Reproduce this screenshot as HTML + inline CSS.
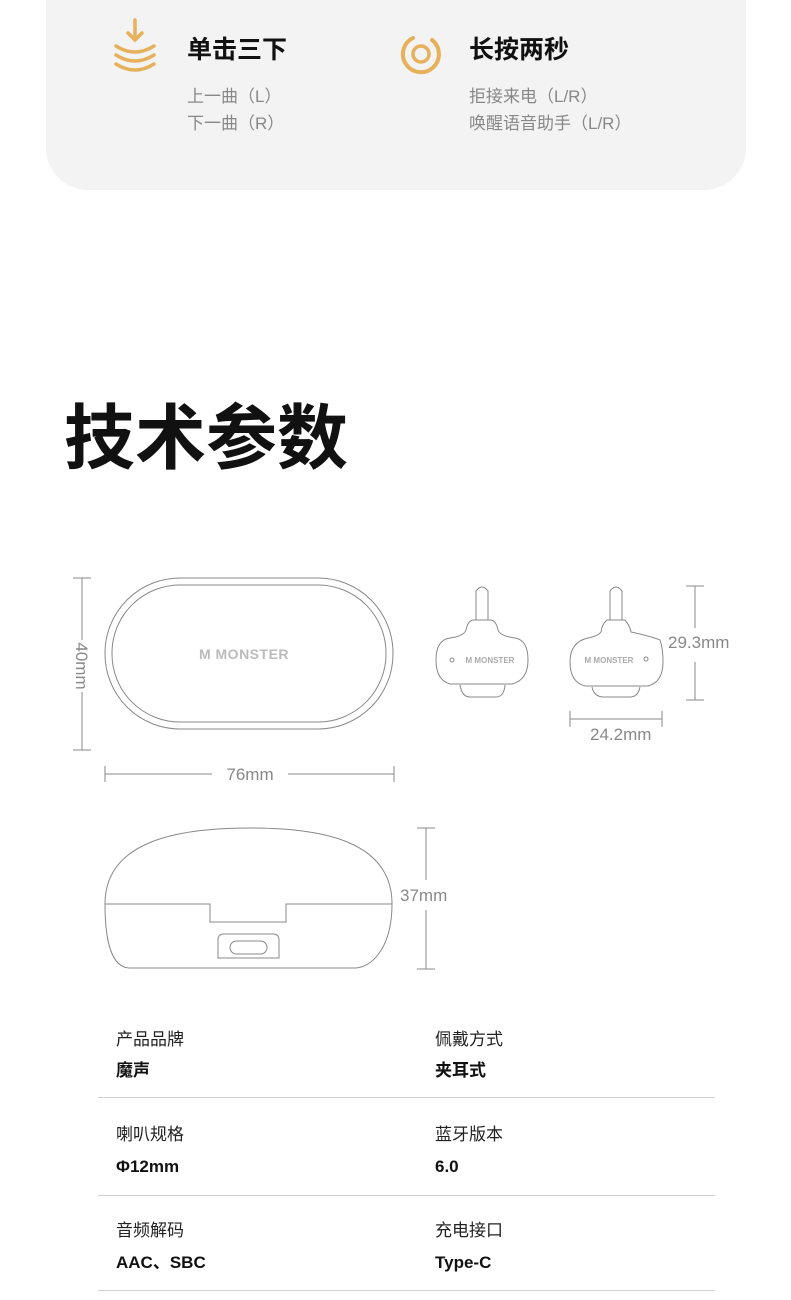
<!DOCTYPE html>
<html><head><meta charset="utf-8"><style>
body{margin:0;width:791px;height:1300px;background:#fff;position:relative;overflow:hidden;font-family:"Liberation Sans","Noto Sans CJK SC",sans-serif}
.a{position:absolute;white-space:nowrap}
.card{position:absolute;left:46px;top:-40px;width:700px;height:230px;background:#f3f3f3;border-radius:0 0 42px 42px}
.h{font-size:25px;font-weight:bold;color:#111;line-height:30px}
.s{font-size:17px;color:#888;line-height:27px}
.lab{font-size:17px;color:#222;line-height:20px}
.val{font-size:17px;font-weight:bold;color:#111;line-height:20px}
.hr{position:absolute;left:98px;width:617px;height:1px;background:#d0d0d0}
</style></head><body>
<div class="card"></div>
<svg class="a" style="left:0;top:0" width="791" height="1300">
 <g fill="none" stroke="#e6b15a" stroke-width="3.5" stroke-linecap="round">
  <path d="M135 20 V40 M128 33 L135 40 L142 33"/>
  <path d="M116 46 Q135 58 154 46"/>
  <path d="M116 55 Q135 67 154 55"/>
  <path d="M116 64 Q135 76 154 64"/>
  <path d="M413 38 A18 18 0 1 0 432 40" stroke-width="4"/>
  <circle cx="421" cy="54" r="8" stroke-width="3.5"/>
 </g>
 <g fill="none" stroke="#888" stroke-width="1">
  <rect x="105" y="578" width="288" height="151" rx="75"/>
  <rect x="112" y="585" width="274" height="137" rx="68"/>
  <path d="M73 578 H91 M82 578 V640 M82 692 V750 M73 750 H91"/>
  <path d="M105 766 V782 M105 774 H212 M288 774 H394 M394 766 V782"/>
  <path d="M105 904 C105 840 180 828 250 828 C320 828 392 840 392 904 C392 950 370 968 355 968 H130 C115 968 105 950 105 904 Z"/>
  <path d="M105 904 H210 V922 H286 V904 H392"/>
  <path d="M218 958 V940 Q218 934 224 934 H273 Q279 934 279 940 V958 Z"/>
  <rect x="230" y="941" width="37" height="13" rx="6.5"/>
  <path d="M417 828 H435 M426 828 V880 M426 910 V969 M417 969 H435"/>
  <path d="M476 620 V591 Q482 583 488 591 V620"/>
  <path d="M474 620 H490 Q496 620 498 630 Q500 636 515 638 Q528 640 528 660 Q528 680 512 684 H450 Q436 680 436 660 Q436 640 450 638 Q464 636 466 630 Q468 620 474 620 Z"/>
  <path d="M460 685 Q462 697 470 697 H496 Q504 697 505 685"/>
  <circle cx="452" cy="660" r="2"/>
  <path d="M610 620 V591 Q616 583 622 591 V620"/>
  <path d="M607 620 H625 Q630 626 631 632 Q650 636 660 640 Q663 648 663 662 Q663 682 648 686 H585 Q570 682 570 662 Q570 642 588 638 Q598 636 601 632 Q602 624 607 620 Z"/>
  <path d="M592 687 Q594 697 604 697 H630 Q638 697 640 687"/>
  <circle cx="646" cy="659" r="2"/>
  <path d="M686 586 H704 M695 586 V628 M695 662 V700 M686 700 H704"/>
  <path d="M570 711 V727 M570 719 H662 M662 711 V727"/>
 </g>
 <text x="244" y="659" font-family="Liberation Sans" font-size="14" font-weight="bold" fill="#bbb" text-anchor="middle" letter-spacing="0.5">M MONSTER</text>
 <text x="490" y="663" font-family="Liberation Sans" font-size="8" font-weight="bold" fill="#aaa" text-anchor="middle">M MONSTER</text>
 <text x="609" y="663" font-family="Liberation Sans" font-size="8" font-weight="bold" fill="#aaa" text-anchor="middle">M MONSTER</text>
 <g font-family="Liberation Sans" font-size="17" fill="#888">
  <text x="250" y="780" text-anchor="middle">76mm</text>
  <text x="400" y="901">37mm</text>
  <text x="668" y="648">29.3mm</text>
  <text x="590" y="740">24.2mm</text>
  <text transform="translate(76,666) rotate(90)" text-anchor="middle">40mm</text>
 </g>
</svg>
<div class="a h" style="left:187px;top:35px">单击三下</div>
<div class="a s" style="left:187px;top:83px">上一曲（L）<br>下一曲（R）</div>
<div class="a h" style="left:469px;top:35px">长按两秒</div>
<div class="a s" style="left:469px;top:83px">拒接来电（L/R）<br>唤醒语音助手（L/R）</div>
<div class="a" style="left:64px;top:400px;font-size:71px;line-height:80px;font-weight:bold;color:#111">技术参数</div>
<div class="a lab" style="left:116px;top:1030px">产品品牌</div>
<div class="a val" style="left:116px;top:1061px">魔声</div>
<div class="a lab" style="left:435px;top:1030px">佩戴方式</div>
<div class="a val" style="left:435px;top:1061px">夹耳式</div>
<div class="hr" style="top:1097px"></div>
<div class="a lab" style="left:116px;top:1125px">喇叭规格</div>
<div class="a val" style="left:116px;top:1157px">Φ12mm</div>
<div class="a lab" style="left:435px;top:1125px">蓝牙版本</div>
<div class="a val" style="left:435px;top:1157px">6.0</div>
<div class="hr" style="top:1195px"></div>
<div class="a lab" style="left:116px;top:1221px">音频解码</div>
<div class="a val" style="left:116px;top:1253px">AAC、SBC</div>
<div class="a lab" style="left:435px;top:1221px">充电接口</div>
<div class="a val" style="left:435px;top:1253px">Type-C</div>
<div class="hr" style="top:1290px"></div>
</body></html>
